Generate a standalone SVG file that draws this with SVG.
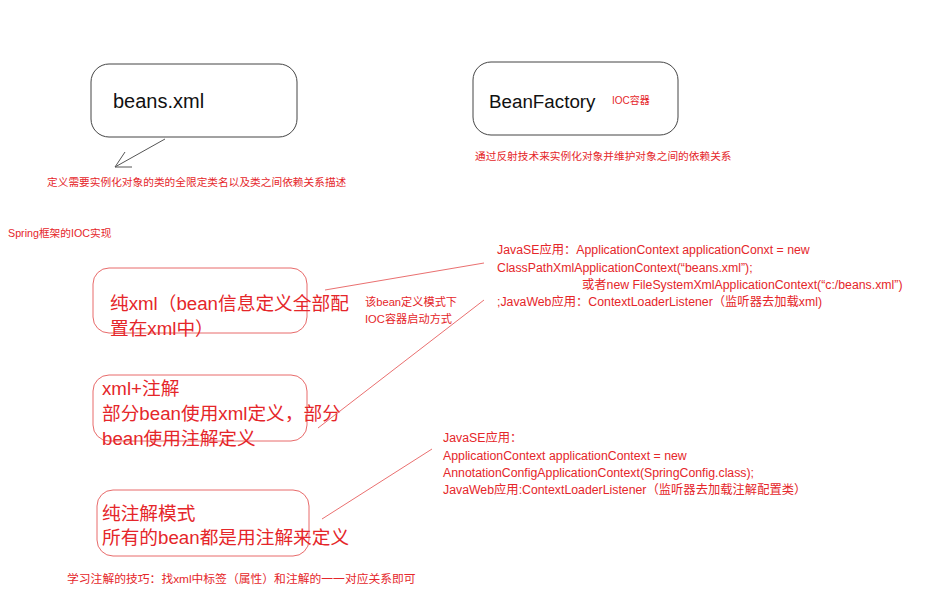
<svg xmlns="http://www.w3.org/2000/svg" width="929" height="600" viewBox="0 0 929 600">
<style>
text{font-family:"Liberation Sans","Noto Sans CJK SC",sans-serif}
.blk{fill:none;stroke:#444;stroke-width:1}
.rbox{fill:none;stroke:#e86a6a;stroke-width:1}
.r{fill:#e5262a}
.s{font-size:10.7px}
.m{font-size:12.3px}
.b{font-size:18.7px}
.ln{stroke:#ea7070;stroke-width:1;fill:none}
</style>
<rect width="929" height="600" fill="#fff"/>
<g id="beansxml">
<rect class="blk" x="91" y="64" width="206" height="73" rx="18"/>
<text x="113" y="108" font-size="20" fill="#111">beans.xml</text>
</g>
<g id="beanfactory">
<rect class="blk" x="473" y="62" width="205" height="73" rx="18"/>
<text x="489" y="108" font-size="18.8" fill="#111">BeanFactory</text>
<text x="612" y="104" font-size="10" class="r">IOC容器</text>
</g>
<g id="purexml">
<rect class="rbox" x="93" y="268" width="214" height="65" rx="16"/>
<text x="110" y="310" class="r b">纯xml（bean信息定义全部配</text>
<text x="110" y="335" class="r b">置在xml中）</text>
</g>
<g id="xmlanno">
<rect class="rbox" x="93" y="375" width="214" height="66" rx="16"/>
<text x="102" y="395" class="r b">xml+注解</text>
<text x="102" y="420" class="r b">部分bean使用xml定义，部分</text>
<text x="102" y="445" class="r b">bean使用注解定义</text>
</g>
<g id="pureanno">
<rect class="rbox" x="97" y="490" width="212" height="66" rx="16"/>
<text x="102" y="520" class="r b">纯注解模式</text>
<text x="102" y="544" class="r b">所有的bean都是用注解来定义</text>
</g>
<g id="connectors">
<line x1="165" y1="139" x2="115" y2="167" stroke="#555" stroke-width="1"/>
<polyline points="125,152 115,167 132,167" fill="none" stroke="#555" stroke-width="1"/>
<line class="ln" x1="325" y1="290" x2="484" y2="263"/>
<line class="ln" x1="484" y1="300" x2="318" y2="428"/>
<line class="ln" x1="432" y1="449" x2="322" y2="519"/>
</g>
<g id="labels">
<text x="47" y="186" class="r s">定义需要实例化对象的类的全限定类名以及类之间依赖关系描述</text>
<text x="475" y="160" class="r s">通过反射技术来实例化对象并维护对象之间的依赖关系</text>
<text x="8" y="237" class="r s">Spring框架的IOC实现</text>
<text x="365" y="306" class="r" font-size="11.2">该bean定义模式下</text>
<text x="365" y="323" class="r" font-size="11.2">IOC容器启动方式</text>
<text x="497" y="254" class="r m">JavaSE应用：ApplicationContext applicationConxt = new</text>
<text x="497" y="272" class="r m">ClassPathXmlApplicationContext(“beans.xml”);</text>
<text x="582" y="289" class="r m">或者new FileSystemXmlApplicationContext(“c:/beans.xml”)</text>
<text x="497" y="306" class="r m">;JavaWeb应用：ContextLoaderListener（监听器去加载xml)</text>
<text x="443" y="442" class="r m">JavaSE应用：</text>
<text x="443" y="460" class="r m">ApplicationContext applicationContext = new</text>
<text x="443" y="477" class="r m">AnnotationConfigApplicationContext(SpringConfig.class);</text>
<text x="443" y="494" class="r m">JavaWeb应用:ContextLoaderListener（监听器去加载注解配置类）</text>
<text x="67" y="583" class="r" font-size="11.8">学习注解的技巧：找xml中标签（属性）和注解的一一对应关系即可</text>
</g>
</svg>
